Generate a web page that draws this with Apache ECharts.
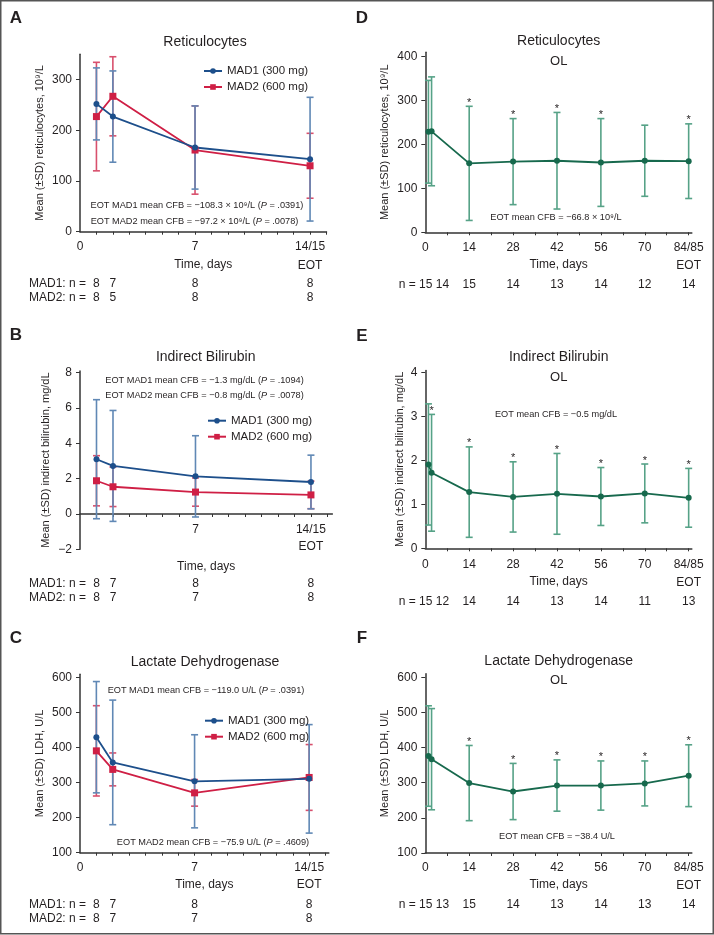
<!DOCTYPE html>
<html><head><meta charset="utf-8">
<script src="https://cdn.jsdelivr.net/npm/echarts@6/dist/echarts.min.js"></script>
<style>html,body{margin:0;padding:0;background:#fff}#c{width:714px;height:935px}</style>
</head><body><div id="c"></div>
<script>
// ---------------- DATA ----------------
const daysMAD = [1, 2, 7, 14];
const daysOL = [1, 2, 14, 28, 42, 56, 70, 84];

const retMAD1Mean = [252, 227, 166, 143];
const retMAD1SD   = [71, 90, 82, 122];
const retMAD2Mean = [227, 267, 161, 130];
const retMAD2SD   = [107, 78, 87, 64];

const ibMAD1Mean = [3.10, 2.72, 2.13, 1.81];
const ibMAD1SD   = [3.37, 3.14, 2.30, 1.52];
const ibMAD2Mean = [1.88, 1.54, 1.24, 1.08];
const ibMAD2SD   = [1.42, 1.12, 0.80, 0.78];

const ldhMAD1Mean = [430, 358, 304, 311];
const ldhMAD1SD   = [159, 178, 133, 155];
const ldhMAD2Mean = [391, 338, 271, 315];
const ldhMAD2SD   = [129, 47, 38, 94];

const retOLMean = [229, 230, 157, 161, 163, 159, 163, 162];
const retOLSD   = [117, 124, 130, 98, 110, 100, 81, 85];
const retOLStar = [0, 0, 1, 1, 1, 1, 0, 1];
const ibOLMean  = [1.91, 1.72, 1.28, 1.17, 1.24, 1.18, 1.25, 1.15];
const ibOLSD    = [1.38, 1.33, 1.03, 0.80, 0.92, 0.66, 0.67, 0.67];
const ibOLStar  = [0, 1, 1, 1, 1, 1, 1, 1];
const ldhOLMean = [376, 367, 299, 275, 292, 292, 298, 320];
const ldhOLSD   = [143, 144, 107, 80, 73, 70, 64, 88];
const ldhOLStar = [0, 0, 1, 1, 1, 1, 1, 1];

const nRetMAD1 = [8, 7, 8, 8];
const nRetMAD2 = [8, 5, 8, 8];
const nIbMAD1  = [8, 7, 8, 8];
const nIbMAD2  = [8, 7, 7, 8];
const nLdhMAD1 = [8, 7, 8, 8];
const nLdhMAD2 = [8, 7, 7, 8];
const nRetOL = [15, 14, 15, 14, 13, 14, 12, 14];
const nIbOL  = [15, 12, 14, 14, 13, 14, 11, 13];
const nLdhOL = [15, 13, 15, 14, 13, 14, 13, 14];

const xTicksMAD = [0, 7, 14];
const xTicksMADnoZero = [7, 14];
const xTickLabelsMAD = { 0: '0', 7: '7', 14: '14/15\nEOT' };
const xTicksOL = [0, 14, 28, 42, 56, 70, 84];
const xTickLabelsOL = { 0: '0', 14: '14', 28: '28', 42: '42', 56: '56', 70: '70', 84: '84/85\nEOT' };
const xMinorMAD = [1, 2, 3, 4, 5, 6, 7, 8, 9, 10, 11, 12, 13, 14, 15];
const xMinorOL = [7, 14, 21, 28, 35, 42, 49, 56, 63, 70, 77, 84];

const yTicksRet = [0, 100, 200, 300];
const yTicksIb = [-2, 0, 2, 4, 6, 8];
const yTicksLdh = [100, 200, 300, 400, 500, 600];
const yTicksRetOL = [0, 100, 200, 300, 400];
const yTicksIbOL = [0, 1, 2, 3, 4];

const nameMAD1 = 'MAD1 (300 mg)';
const nameMAD2 = 'MAD2 (600 mg)';

// ---------------- STYLE ----------------
const TXT = '#231f20';
const FONT = "'Liberation Sans', Arial, Helvetica, sans-serif";
const BLUE = '#1d4f8b', BLUE_E = '#6088b5';
const RED = '#cf1f45', RED_E = '#d8506d';
const GREEN = '#17694d', GREEN_E = '#56a287';
const AXIS = '#333';

const grids = [], xAxes = [], yAxes = [], series = [], legends = [];

function addPanel(p) {
  const gi = grids.length;
  grids.push({ left: p.left, top: p.top, width: p.width, height: p.height, containLabel: false });
  const xi = xAxes.length;
  xAxes.push({
    type: 'value', gridIndex: gi, min: 0, max: p.xMax, position: 'bottom', offset: p.xOffset || 0,
    name: 'Time, days', nameLocation: 'middle', nameGap: p.xNameGap, nameMoveOverlap: false,
    nameTextStyle: { fontSize: 12, color: TXT, fontFamily: FONT },
    splitLine: { show: false },
    axisLine: { onZero: false, lineStyle: { color: AXIS, width: 1.5 } },
    axisTick: { show: true, length: 3, customValues: p.xMinor, lineStyle: { color: AXIS, width: 1 } },
    axisLabel: {
      customValues: p.xTicks, margin: p.xMargin, fontSize: 12, color: TXT, fontFamily: FONT,
      lineHeight: p.lineH, formatter: v => p.xLabels[v]
    }
  });
  const yi = yAxes.length;
  yAxes.push({
    type: 'value', gridIndex: gi, min: p.yMin, max: p.yMax,
    name: p.yName, nameLocation: 'middle', nameGap: p.yNameGap, nameRotate: 90, nameMoveOverlap: false,
    nameTextStyle: { fontSize: 11, color: TXT, fontFamily: FONT },
    splitLine: { show: false },
    axisLine: { onZero: false, lineStyle: { color: AXIS, width: 1.5 } },
    axisTick: { show: true, length: 4, customValues: p.yTicks, lineStyle: { color: AXIS, width: 1 } },
    axisLabel: {
      customValues: p.yTicks, margin: 8, fontSize: 12, color: TXT, fontFamily: FONT,
      formatter: v => String(v).replace('-', '\u2212')
    }
  });
  // n rows as extra x axes sharing the scale
  p.nRows.forEach(row => {
    xAxes.push({
      type: 'value', gridIndex: gi, min: 0, max: p.xMax, position: 'bottom', offset: row.offset,
      axisLine: { show: false, onZero: false }, axisTick: { show: false }, splitLine: { show: false },
      axisLabel: {
        customValues: row.days, margin: 0, verticalAlign: 'middle', fontSize: 12, color: TXT, fontFamily: FONT,
        formatter: v => String(row.n[row.days.indexOf(v)])
      }
    });
  });
  return { xi, yi };
}

function errSeries(ax, days, mean, sd, stars, color) {
  return {
    type: 'custom', xAxisIndex: ax.xi, yAxisIndex: ax.yi, z: 2, silent: true,
    data: days.map((d, i) => [d, mean[i] - sd[i], mean[i] + sd[i], stars ? stars[i] : 0]),
    encode: { x: 0, y: [1, 2] },
    renderItem: (params, api) => {
      const x = api.value(0), lo = api.value(1), hi = api.value(2), st = api.value(3);
      const a = api.coord([x, lo]), b = api.coord([x, hi]);
      const w = 3.5;
      const s = { stroke: color, lineWidth: 1.6 };
      const ch = [
        { type: 'line', shape: { x1: a[0], y1: a[1], x2: b[0], y2: b[1] }, style: s },
        { type: 'line', shape: { x1: b[0] - w, y1: b[1], x2: b[0] + w, y2: b[1] }, style: s },
        { type: 'line', shape: { x1: a[0] - w, y1: a[1], x2: a[0] + w, y2: a[1] }, style: s }
      ];
      if (st) ch.push({ type: 'text', style: { text: '*', x: b[0], y: b[1] + 2, align: 'center', verticalAlign: 'bottom', fontSize: 11, fill: TXT, fontFamily: FONT } });
      return { type: 'group', children: ch };
    }
  };
}

function lineSeries(ax, name, days, mean, color, symbol, size) {
  return {
    type: 'line', name, xAxisIndex: ax.xi, yAxisIndex: ax.yi, z: 5,
    data: days.map((d, i) => [d, mean[i]]),
    symbol, symbolSize: size, showSymbol: true,
    lineStyle: { color, width: 1.8 }, itemStyle: { color },
    emphasis: { disabled: true }
  };
}

// ---- Panel A
const axA = addPanel({ left: 80, top: 54.2, width: 246.5, height: 177.5, xMax: 15, yMin: 0, yMax: 350,
  yTicks: yTicksRet, xTicks: xTicksMAD, xLabels: xTickLabelsMAD, xMinor: xMinorMAD, xMargin: 5, lineH: 19,
  xNameGap: 27, yName: 'Mean (\u00b1SD) reticulocytes, 10\u2079/L', yNameGap: 35,
  nRows: [{ days: daysMAD, n: nRetMAD1, offset: 52 }, { days: daysMAD, n: nRetMAD2, offset: 65.8 }] });
series.push(errSeries(axA, daysMAD, retMAD2Mean, retMAD2SD, null, RED_E));
series.push(errSeries(axA, daysMAD, retMAD1Mean, retMAD1SD, null, BLUE_E));
series.push(lineSeries(axA, nameMAD2, daysMAD, retMAD2Mean, RED, 'rect', 7));
series.push(lineSeries(axA, nameMAD1, daysMAD, retMAD1Mean, BLUE, 'circle', 6));

// ---- Panel B (x axis line drawn at y = 0, i.e. 35 px above the bottom at -2)
const axB = addPanel({ left: 80, top: 370.9, width: 252.4, height: 178.4, xMax: 15.3, yMin: -2, yMax: 8.1,
  xOffset: -35.3,
  yTicks: yTicksIb, xTicks: xTicksMADnoZero, xLabels: xTickLabelsMAD, xMinor: xMinorMAD, xMargin: 7, lineH: 17,
  xNameGap: 46.5, yName: 'Mean (\u00b1SD) indirect bilirubin, mg/dL', yNameGap: 29,
  nRows: [{ days: daysMAD, n: nIbMAD1, offset: 34.7 }, { days: daysMAD, n: nIbMAD2, offset: 48.4 }] });
series.push(errSeries(axB, daysMAD, ibMAD2Mean, ibMAD2SD, null, RED_E));
series.push(errSeries(axB, daysMAD, ibMAD1Mean, ibMAD1SD, null, BLUE_E));
series.push(lineSeries(axB, nameMAD2, daysMAD, ibMAD2Mean, RED, 'rect', 7));
series.push(lineSeries(axB, nameMAD1, daysMAD, ibMAD1Mean, BLUE, 'circle', 6));

// ---- Panel C
const axC = addPanel({ left: 80, top: 674.2, width: 248.8, height: 178.5, xMax: 15.2, yMin: 100, yMax: 610,
  yTicks: yTicksLdh, xTicks: xTicksMAD, xLabels: xTickLabelsMAD, xMinor: xMinorMAD, xMargin: 6, lineH: 17.5,
  xNameGap: 25.6, yName: 'Mean (\u00b1SD) LDH, U/L', yNameGap: 35,
  nRows: [{ days: daysMAD, n: nLdhMAD1, offset: 52 }, { days: daysMAD, n: nLdhMAD2, offset: 65.6 }] });
series.push(errSeries(axC, daysMAD, ldhMAD2Mean, ldhMAD2SD, null, RED_E));
series.push(errSeries(axC, daysMAD, ldhMAD1Mean, ldhMAD1SD, null, BLUE_E));
series.push(lineSeries(axC, nameMAD2, daysMAD, ldhMAD2Mean, RED, 'rect', 7));
series.push(lineSeries(axC, nameMAD1, daysMAD, ldhMAD1Mean, BLUE, 'circle', 6));

// ---- Panel D
const axD = addPanel({ left: 425.3, top: 52.3, width: 266.5, height: 180, xMax: 85, yMin: 0, yMax: 410,
  yTicks: yTicksRetOL, xTicks: xTicksOL, xLabels: xTickLabelsOL, xMinor: xMinorOL, xMargin: 7, lineH: 17.5,
  xNameGap: 26.4, yName: 'Mean (\u00b1SD) reticulocytes, 10\u2079/L', yNameGap: 35,
  nRows: [{ days: daysOL.slice(2), n: nRetOL.slice(2), offset: 52 }] });
series.push(errSeries(axD, daysOL, retOLMean, retOLSD, retOLStar, GREEN_E));
series.push(lineSeries(axD, 'OL', daysOL, retOLMean, GREEN, 'circle', 6));

// ---- Panel E
const axE = addPanel({ left: 425.3, top: 370.5, width: 266.5, height: 177.8, xMax: 85, yMin: 0, yMax: 4.05,
  yTicks: yTicksIbOL, xTicks: xTicksOL, xLabels: xTickLabelsOL, xMinor: xMinorOL, xMargin: 8, lineH: 17.5,
  xNameGap: 27.4, yName: 'Mean (\u00b1SD) indirect bilirubin, mg/dL', yNameGap: 20,
  nRows: [{ days: daysOL.slice(2), n: nIbOL.slice(2), offset: 53.4 }] });
series.push(errSeries(axE, daysOL, ibOLMean, ibOLSD, ibOLStar, GREEN_E));
series.push(lineSeries(axE, 'OL', daysOL, ibOLMean, GREEN, 'circle', 6));

// ---- Panel F
const axF = addPanel({ left: 425.3, top: 673.8, width: 266.5, height: 179.2, xMax: 85, yMin: 100, yMax: 610,
  yTicks: yTicksLdh, xTicks: xTicksOL, xLabels: xTickLabelsOL, xMinor: xMinorOL, xMargin: 6, lineH: 17.5,
  xNameGap: 26, yName: 'Mean (\u00b1SD) LDH, U/L', yNameGap: 35,
  nRows: [{ days: daysOL.slice(2), n: nLdhOL.slice(2), offset: 51.7 }] });
series.push(errSeries(axF, daysOL, ldhOLMean, ldhOLSD, ldhOLStar, GREEN_E));
series.push(lineSeries(axF, 'OL', daysOL, ldhOLMean, GREEN, 'circle', 6));

// ---- legends
[[203, 65], [207, 414.7], [204, 714.7]].forEach(([l, t]) => {
  legends.push({
    left: l, top: t, padding: 0, orient: 'vertical', itemGap: 4, itemWidth: 18, itemHeight: 7,
    data: [nameMAD1, nameMAD2], selectedMode: false,
    textStyle: { fontSize: 11.5, color: TXT, fontFamily: FONT, lineHeight: 12 }
  });
});

// ---- texts
function txt(x, y, text, o) {
  return {
    type: 'text', x, y, silent: true, z: 10,
    style: Object.assign({ text, fill: TXT, fontFamily: FONT, fontSize: 12, align: 'center', verticalAlign: 'middle' }, o || {})
  };
}
const ital = { i: { fontStyle: 'italic', fontSize: 9.2, fontFamily: FONT, fill: TXT } };
const anno = (x, y, t) => txt(x, y, t, { fontSize: 9.2, rich: ital });

const graphics = [
  { type: 'rect', shape: { x: 0.75, y: 0.75, width: 712.5, height: 933 }, style: { fill: null, stroke: '#555', lineWidth: 1.5 }, silent: true },
  txt(16, 18.5, 'A', { fontSize: 17, fontWeight: 'bold' }),
  txt(16, 335.5, 'B', { fontSize: 17, fontWeight: 'bold' }),
  txt(16, 638.7, 'C', { fontSize: 17, fontWeight: 'bold' }),
  txt(362, 18.5, 'D', { fontSize: 17, fontWeight: 'bold' }),
  txt(362, 336, 'E', { fontSize: 17, fontWeight: 'bold' }),
  txt(362, 638, 'F', { fontSize: 17, fontWeight: 'bold' }),
  txt(205, 41.7, 'Reticulocytes', { fontSize: 14 }),
  txt(205.7, 357.3, 'Indirect Bilirubin', { fontSize: 14 }),
  txt(205, 662.3, 'Lactate Dehydrogenase', { fontSize: 14 }),
  txt(558.7, 40.7, 'Reticulocytes', { fontSize: 14 }),
  txt(558.7, 61, 'OL', { fontSize: 13 }),
  txt(558.7, 357.3, 'Indirect Bilirubin', { fontSize: 14 }),
  txt(558.7, 377.3, 'OL', { fontSize: 13 }),
  txt(558.7, 660.7, 'Lactate Dehydrogenase', { fontSize: 14 }),
  txt(558.7, 680, 'OL', { fontSize: 13 }),
  anno(197, 205.7, 'EOT MAD1 mean CFB = \u2212108.3 \u00d7 10\u2079/L ({i|P} = .0391)'),
  anno(194.5, 221, 'EOT MAD2 mean CFB = \u221297.2 \u00d7 10\u2079/L ({i|P} = .0078)'),
  anno(204.5, 380, 'EOT MAD1 mean CFB = \u22121.3 mg/dL ({i|P} = .1094)'),
  anno(204.5, 395, 'EOT MAD2 mean CFB = \u22120.8 mg/dL ({i|P} = .0078)'),
  anno(206, 690, 'EOT MAD1 mean CFB = \u2212119.0 U/L ({i|P} = .0391)'),
  anno(213, 842.3, 'EOT MAD2 mean CFB = \u221275.9 U/L ({i|P} = .4609)'),
  anno(556, 217, 'EOT mean CFB = \u221266.8 \u00d7 10\u2079/L'),
  anno(556, 414.3, 'EOT mean CFB = \u22120.5 mg/dL'),
  anno(557, 836.7, 'EOT mean CFB = \u221238.4 U/L'),
  txt(86, 283.7, 'MAD1: n =', { align: 'right' }),
  txt(86, 297.5, 'MAD2: n =', { align: 'right' }),
  txt(86, 584, 'MAD1: n =', { align: 'right' }),
  txt(86, 597.7, 'MAD2: n =', { align: 'right' }),
  txt(86, 904.7, 'MAD1: n =', { align: 'right' }),
  txt(86, 918.3, 'MAD2: n =', { align: 'right' }),
  txt(398.7, 284.3, 'n = ' + nRetOL[0] + ' ' + nRetOL[1], { align: 'left' }),
  txt(398.7, 601.7, 'n = ' + nIbOL[0] + ' ' + nIbOL[1], { align: 'left' }),
  txt(398.7, 904.7, 'n = ' + nLdhOL[0] + ' ' + nLdhOL[1], { align: 'left' })
];

const chart = echarts.init(document.getElementById('c'), null, { renderer: 'canvas' });
chart.setOption({
  animation: false,
  backgroundColor: '#fff',
  textStyle: { fontFamily: FONT },
  grid: grids, xAxis: xAxes, yAxis: yAxes, series, legend: legends,
  graphic: graphics
});
</script></body></html>
